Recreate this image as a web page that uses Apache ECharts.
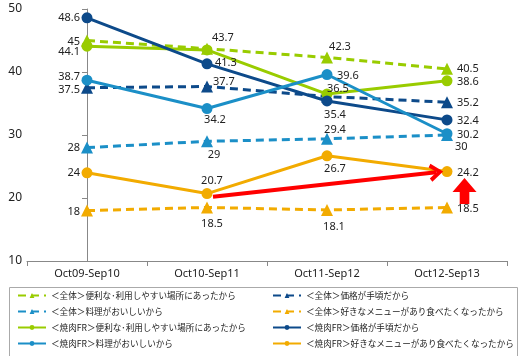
<!DOCTYPE html>
<html><head><meta charset="utf-8">
<script src="https://cdn.jsdelivr.net/npm/echarts@6/dist/echarts.min.js"></script>
<style>html,body{margin:0;padding:0;background:#fff}#c{width:522px;height:356px}</style>
</head><body><div id="c"></div>
<script>
var categories = ['Oct09-Sep10','Oct10-Sep11','Oct11-Sep12','Oct12-Sep13'];
var names = [
  '＜全体＞便利な･利用しやすい場所にあったから',
  '＜全体＞価格が手頃だから',
  '＜全体＞料理がおいしいから',
  '＜全体＞好きなメニューがあり食べたくなったから',
  '＜焼肉FR＞便利な･利用しやすい場所にあったから',
  '＜焼肉FR＞価格が手頃だから',
  '＜焼肉FR＞料理がおいしいから',
  '＜焼肉FR＞好きなメニューがあり食べたくなったから'
];
var allConv  = [45, 43.7, 42.3, 40.5];
var allPrice = [37.5, 37.7, 36.1, 35.2];
var allTaste = [28, 29, 29.4, 30];
var allMenu  = [18, 18.5, 18.1, 18.5];
var ykConv   = [44.1, 43.5, 36.5, 38.6];
var ykPrice  = [48.6, 41.3, 35.4, 32.4];
var ykTaste  = [38.7, 34.2, 39.6, 30.2];
var ykMenu   = [24, 20.7, 26.7, 24.2];
var yTicks = {min: 10, max: 50, interval: 10};
// annotation anchors (in data units: category index, value)
var arrowFrom = [1.05, 20.2];
var arrowTo = [2.91, 24.1];
var upArrowAt = [3.146, 21.1];

// label layout [align, dx, dy] or null (hidden)
var labelLayouts = [
  [['right',-7,1],['left',5,-11],['center',13,-11],['left',10,0]],
  [['right',-7,2.5],['left',6,-5],null,['left',10,1]],
  [['right',-7,0],['center',7,14],['center',8,-9],['left',8,12]],
  [['right',-7,1],['center',5,16],['center',7,17],['left',10,1]],
  [['right',-7,5.5],null,['left',0,-5],['left',10,1]],
  [['right',-7,0],['left',8,-1],['center',8,14],['left',10,1]],
  [['right',-7,-3.5],['center',8,11],['left',10,1.5],['left',10,1]],
  [['right',-7,0],['center',5,-13],['center',8,13.5],['left',10,1]]
];
var values = [allConv, allPrice, allTaste, allMenu, ykConv, ykPrice, ykTaste, ykMenu];
var green = '#99cc00', navy = '#0d4a8a', blue = '#1b8fc7', orange = '#f2ab00';
var colors = [green, navy, blue, orange, green, navy, blue, orange];

var series = values.map(function (vals, k) {
  var dashed = k < 4;
  return {
    name: names[k],
    type: 'line',
    data: vals.map(function (v, i) {
      var l = labelLayouts[k][i];
      return {value: v, label: l ? {show: true, align: l[0], offset: [l[1], l[2]]} : {show: false}};
    }),
    symbol: dashed ? 'triangle' : 'circle',
    symbolSize: dashed ? 12 : 11,
    showAllSymbol: true,
    itemStyle: {color: colors[k]},
    lineStyle: {color: colors[k], width: 3, type: dashed ? [8, 5] : 'solid'},
    label: {show: true, position: 'inside', verticalAlign: 'middle', color: '#222',
            fontSize: 11, fontFamily: 'Noto Sans', formatter: '{c}'},
    emphasis: {disabled: true},
    animation: false
  };
});

series.push({
  name: 'annotation', type: 'line', xAxisIndex: 1, data: [], animation: false,
  markLine: {
    silent: true, animation: false,
    symbol: ['none', 'path://M0,11 L9,0 L18,11 L14.5,13 L9,6 L3.5,13 Z'],
    symbolSize: [18, 14],
    lineStyle: {color: '#ff0000', width: 4, type: 'solid'},
    label: {show: false},
    data: [[{coord: arrowFrom}, {coord: arrowTo}]]
  },
  markPoint: {
    silent: true, animation: false,
    symbol: 'path://M12.5,0 L25,14 L17.5,14 L17.5,26 L7.5,26 L7.5,14 L0,14 Z',
    symbolSize: [25, 26],
    symbolKeepAspect: true,
    itemStyle: {color: '#ff0000'},
    label: {show: false},
    data: [{coord: upArrowAt}]
  }
});

function legendCfg(left, items) {
  return {
    orient: 'vertical', left: left, top: 289, height: 80, padding: 0,
    itemWidth: 28, itemHeight: 6, itemGap: 3,
    textStyle: {fontSize: 8.6, color: '#222', fontFamily: 'Noto Sans CJK JP', lineHeight: 13},
    selectedMode: false, data: items
  };
}

var chart = echarts.init(document.getElementById('c'), null, {renderer: 'canvas'});
chart.setOption({
  backgroundColor: '#fff',
  animation: false,
  grid: {left: 27, right: 15, top: 9, bottom: 95},
  xAxis: [{
    type: 'category', data: categories, boundaryGap: true,
    axisLine: {lineStyle: {color: '#888'}},
    axisTick: {show: true, lineStyle: {color: '#888'}},
    axisLabel: {color: '#222', fontSize: 11, margin: 7, fontFamily: 'Noto Sans'}
  }, {
    type: 'value', min: -0.5, max: 3.5, show: false
  }],
  yAxis: {
    type: 'value', min: yTicks.min, max: yTicks.max, interval: yTicks.interval,
    axisLine: {show: true, lineStyle: {color: '#888'}},
    axisTick: {show: true, lineStyle: {color: '#888'}},
    splitLine: {show: false},
    axisLabel: {color: '#222', fontSize: 12, margin: 5, fontFamily: 'Noto Sans'}
  },
  legend: [
    legendCfg(17, [names[0], names[2], names[4], names[6]]),
    legendCfg(272, [names[1], names[3], names[5], names[7]])
  ],
  graphic: [{
    type: 'rect', left: 7, top: 285, silent: true,
    shape: {width: 508, height: 69},
    style: {fill: 'none', stroke: '#aaa', lineWidth: 1}
  }],
  series: series
});
</script></body></html>
